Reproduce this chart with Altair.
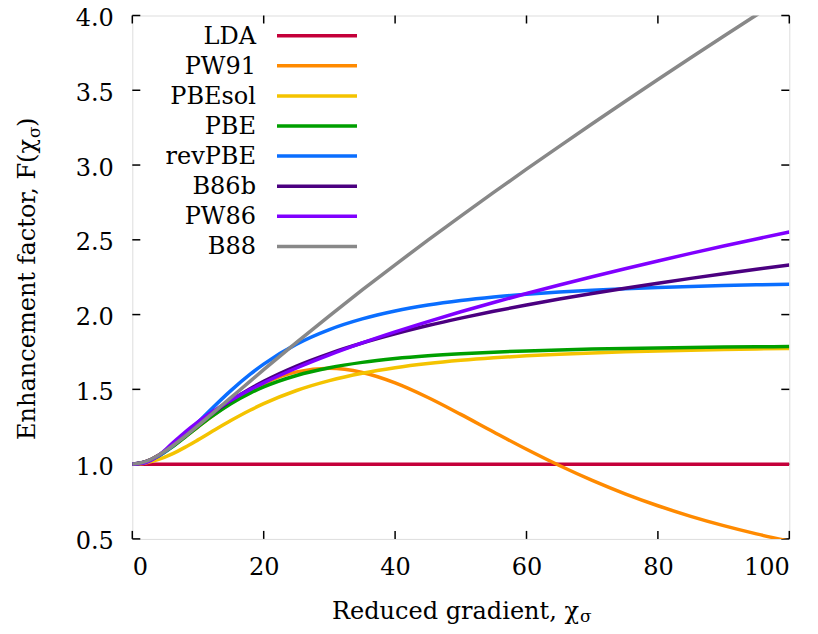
import altair as alt
import pandas as pd

# ---- data ----
X = [0, 2, 4, 6, 8, 10, 12, 15, 18, 20, 25, 30, 35, 40, 45, 50, 55, 60, 65, 70, 75, 80, 85, 90, 95, 100]

LDA = [1.0] * len(X)
PW91 = [1.0, 1.0168, 1.0594, 1.1169, 1.1819, 1.2494, 1.3163, 1.4104, 1.4923, 1.5382, 1.6168, 1.6405, 1.6126,
        1.5432, 1.4456, 1.3327, 1.2148, 1.0993, 0.9907, 0.8912, 0.8015, 0.7216, 0.6509, 0.5885, 0.5335, 0.4850]
PBEsol = [1.0, 1.0080, 1.0312, 1.0670, 1.1119, 1.1622, 1.2145, 1.2914, 1.3619, 1.4041, 1.4923, 1.5584, 1.6077,
          1.6446, 1.6726, 1.6941, 1.7110, 1.7244, 1.7351, 1.7439, 1.7512, 1.7572, 1.7623, 1.7666, 1.7702, 1.7734]
PBE = [1.0, 1.0142, 1.0539, 1.1119, 1.1796, 1.2492, 1.3158, 1.4042, 1.4766, 1.5166, 1.5929, 1.6446, 1.6804,
       1.7058, 1.7244, 1.7383, 1.7489, 1.7572, 1.7638, 1.7691, 1.7734, 1.7770, 1.7800, 1.7825, 1.7846, 1.7865]
revPBE = [1.0, 1.0143, 1.0552, 1.1177, 1.1950, 1.2800, 1.3669, 1.4917, 1.6033, 1.6688, 1.8025, 1.9002, 1.9716,
          2.0243, 2.0639, 2.0942, 2.1177, 2.1362, 2.1511, 2.1632, 2.1731, 2.1814, 2.1883, 2.1942, 2.1992, 2.2035]
B86b = [1.0, 1.0158, 1.0592, 1.1212, 1.1918, 1.2636, 1.3322, 1.4255, 1.5063, 1.5540, 1.6560, 1.7394, 1.8101,
        1.8716, 1.9265, 1.9761, 2.0218, 2.0641, 2.1037, 2.1410, 2.1763, 2.2100, 2.2422, 2.2731, 2.3027, 2.3313]
PW86 = [1.0, 1.0091, 1.0576, 1.1355, 1.2131, 1.2828, 1.3451, 1.4273, 1.4996, 1.5436, 1.6428, 1.7306, 1.8104,
        1.8842, 1.9533, 2.0187, 2.0810, 2.1406, 2.1980, 2.2533, 2.3068, 2.3587, 2.4091, 2.4581, 2.5058, 2.5523]
B88 = [1.0, 1.0168, 1.0596, 1.1180, 1.1852, 1.2571, 1.3314, 1.4442, 1.5569, 1.6314, 1.8142, 1.9919, 2.1647,
       2.3331, 2.4976, 2.6588, 2.8168, 2.9723, 3.1252, 3.2760, 3.4249, 3.5719, 3.7174, 3.8613, 4.0038, 4.1450]

SERIES_NAMES = ["LDA", "PW91", "PBEsol", "PBE", "revPBE", "B86b", "PW86", "B88"]
SERIES_VALUES = [LDA, PW91, PBEsol, PBE, revPBE, B86b, PW86, B88]
COLORS = ["#c4003a", "#ff8a00", "#f4c300", "#009f00", "#0a6eff", "#4b0080", "#8000ff", "#888888"]

X_TICKS = [0, 20, 40, 60, 80, 100]
Y_TICKS = [0.5, 1.0, 1.5, 2.0, 2.5, 3.0, 3.5, 4.0]

X_TITLE = ["Reduced gradient, χ", "σ"]
Y_TITLE = ["Enhancement factor, F(χ", "σ", ")"]

# ---- layout ----
TOP = 15.5            # absolute y of plot top
LEFT = 132.3          # absolute x of plot left
W, H = 657, 538.9 - TOP
FONT = "DejaVu Serif"
FS = 24
SFS = 17
LW = 3.5

xs = alt.Scale(domain=[0, 100], nice=False, zero=False)
ys = alt.Scale(domain=[0.5, 4.0], nice=False, zero=False)

layers = []

axis_df = pd.DataFrame({"x": [0, 100], "y": [0.5, 4.0]})
layers.append(
    alt.Chart(axis_df).mark_point(opacity=0).encode(
        x=alt.X("x:Q", scale=xs, title=None,
                axis=alt.Axis(values=X_TICKS, format="d", ticks=False, tickSize=0, domain=False, grid=False,
                              labelFont=FONT, labelFontSize=FS, labelColor="black", labelPadding=17)),
        y=alt.Y("y:Q", scale=ys, title=None,
                axis=alt.Axis(values=Y_TICKS, format=".1f", ticks=False, tickSize=0, domain=False, grid=False,
                              labelFont=FONT, labelFontSize=FS, labelColor="black", labelPadding=19,
                              labelOffset=3)),
    )
)

xt = pd.DataFrame({"v": X_TICKS})
yt = pd.DataFrame({"v": Y_TICKS})
TL = 8
for y0, y1 in [(H, H - TL), (0, TL)]:
    layers.append(alt.Chart(xt).mark_rule(color="black", strokeWidth=1.5).encode(
        x=alt.X("v:Q", scale=xs), y=alt.value(y0), y2=alt.value(y1)))
for x0, x1 in [(0, TL), (W - TL, W)]:
    layers.append(alt.Chart(yt).mark_rule(color="black", strokeWidth=1.5).encode(
        y=alt.Y("v:Q", scale=ys), x=alt.value(x0), x2=alt.value(x1)))

for name, vals, col in zip(SERIES_NAMES, SERIES_VALUES, COLORS):
    df = pd.DataFrame({"x": X, "F": vals})
    layers.append(
        alt.Chart(df).mark_line(color=col, strokeWidth=LW, clip=True, interpolate="monotone").encode(
            x=alt.X("x:Q", scale=xs), y=alt.Y("F:Q", scale=ys))
    )

one = pd.DataFrame({"k": [0]})
for i, (name, col) in enumerate(zip(SERIES_NAMES, COLORS)):
    yy = 35.7 - TOP + 30.1 * i
    layers.append(alt.Chart(pd.DataFrame({"t": [name]})).mark_text(
        align="right", baseline="middle", font=FONT, fontSize=FS, color="black", dy=1).encode(
        text="t:N", x=alt.value(256 - LEFT), y=alt.value(yy)))
    layers.append(alt.Chart(one).mark_rule(color=col, strokeWidth=LW).encode(
        x=alt.value(277 - LEFT), x2=alt.value(357 - LEFT), y=alt.value(yy)))

XA = 579 - LEFT
XBASE = 618.5 - TOP
layers.append(alt.Chart(pd.DataFrame({"t": [X_TITLE[0]]})).mark_text(
    align="right", baseline="alphabetic", font=FONT, fontSize=FS, color="black").encode(
    text="t:N", x=alt.value(XA), y=alt.value(XBASE)))
layers.append(alt.Chart(pd.DataFrame({"t": [X_TITLE[1]]})).mark_text(
    align="left", baseline="alphabetic", font=FONT, fontSize=SFS, color="black").encode(
    text="t:N", x=alt.value(XA + 1), y=alt.value(XBASE + 3.5)))

YB = 35 - LEFT
YA = 139 - TOP
layers.append(alt.Chart(pd.DataFrame({"t": [Y_TITLE[0]]})).mark_text(
    align="right", baseline="alphabetic", font=FONT, fontSize=FS, color="black", angle=270).encode(
    text="t:N", x=alt.value(YB), y=alt.value(YA)))
layers.append(alt.Chart(pd.DataFrame({"t": [Y_TITLE[1]]})).mark_text(
    align="left", baseline="alphabetic", font=FONT, fontSize=SFS, color="black", angle=270).encode(
    text="t:N", x=alt.value(YB + 5), y=alt.value(YA - 1)))
layers.append(alt.Chart(pd.DataFrame({"t": [Y_TITLE[2]]})).mark_text(
    align="left", baseline="alphabetic", font=FONT, fontSize=FS, color="black", angle=270).encode(
    text="t:N", x=alt.value(YB), y=alt.value(YA - 12)))

PAD_TOP = TOP - 8
PAD_LEFT = LEFT - 8
PAD_BOTTOM = 626 - 8 - PAD_TOP - H
PAD_RIGHT = 810 - 8 - PAD_LEFT - W

chart = alt.layer(*layers).properties(
    width=W, height=H,
    autosize=alt.AutoSizeParams(type="none"),
    padding={"left": PAD_LEFT, "top": PAD_TOP, "right": PAD_RIGHT, "bottom": PAD_BOTTOM},
).configure_view(stroke="black", strokeWidth=2).configure(background="white")

chart.save("out.html", embed_options={"renderer": "svg", "actions": False})
